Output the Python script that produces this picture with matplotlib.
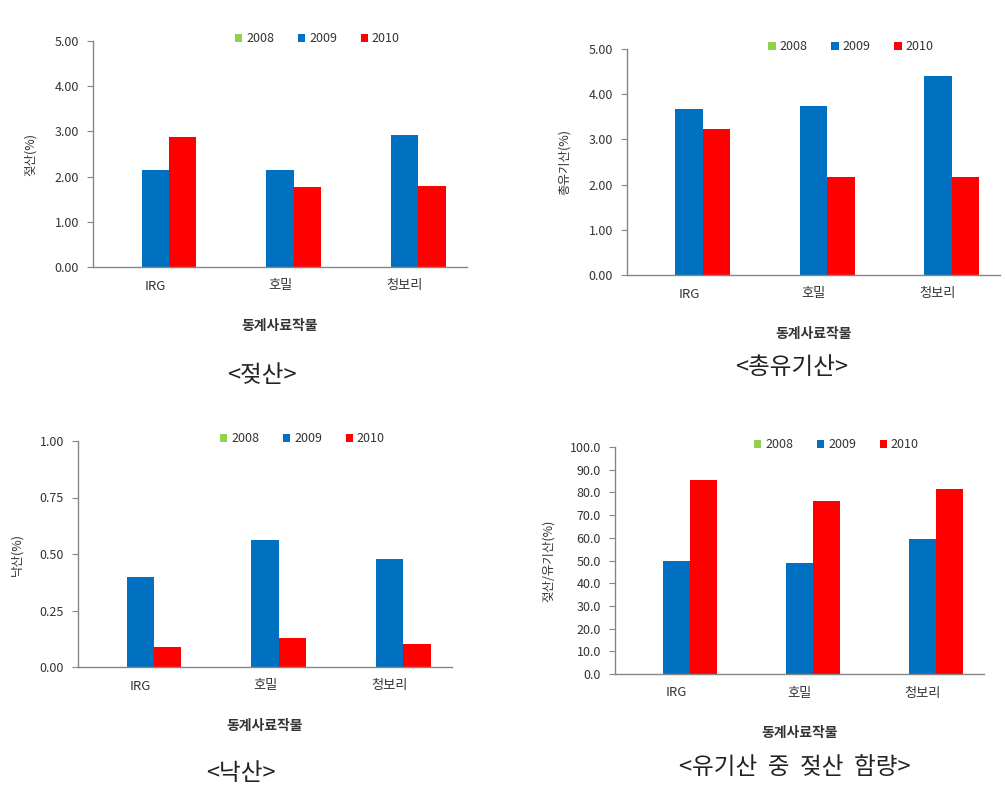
import numpy as np
import matplotlib
matplotlib.use("Agg")
import matplotlib.pyplot as plt
from matplotlib.ticker import MultipleLocator, FormatStrFormatter

plt.rcParams['font.family'] = ['Noto Sans CJK KR', 'DejaVu Sans']

# data
crops = ['IRG', '호밀', '청보리']
years = ['2008', '2009', '2010']
colors = ['#92D050', '#0070C0', '#FF0000']

lactic_2008 = [np.nan, np.nan, np.nan]
lactic_2009 = [2.15, 2.15, 2.92]
lactic_2010 = [2.87, 1.78, 1.80]

total_2008 = [np.nan, np.nan, np.nan]
total_2009 = [3.67, 3.73, 4.40]
total_2010 = [3.24, 2.16, 2.16]

butyric_2008 = [np.nan, np.nan, np.nan]
butyric_2009 = [0.40, 0.56, 0.48]
butyric_2010 = [0.09, 0.13, 0.10]

ratio_2008 = [np.nan, np.nan, np.nan]
ratio_2009 = [50.0, 49.0, 59.6]
ratio_2010 = [85.5, 76.1, 81.7]

W, H = 1005, 800
fig = plt.figure(figsize=(W / 100, H / 100), dpi=100)


def px_axes(left, top, right, bottom):
    return fig.add_axes([left / W, 1 - bottom / H, (right - left) / W, (bottom - top) / H])


def panel(box, series, ymax, step, fmt, ylabel, ylab_dist, title, title_xy):
    ax = px_axes(*box)
    x = np.arange(len(crops))
    bw = 0.22
    handles = []
    for i, (vals, c) in enumerate(zip(series, colors)):
        b = ax.bar(x + (i - 1) * bw, vals, bw, color=c, label=years[i])
        handles.append(b)
    ax.set_xlim(-0.5, 2.5)
    ax.set_ylim(0, ymax)
    ax.yaxis.set_major_locator(MultipleLocator(step))
    ax.yaxis.set_major_formatter(FormatStrFormatter(fmt))
    ax.set_xticks(x)
    ax.set_xticklabels(crops, fontsize=9.5, color='#333333')
    ax.tick_params(axis='x', length=0, pad=9)
    ax.tick_params(axis='y', length=4, width=0.8, color='#868686', labelsize=9,
                   labelcolor='#333333', pad=6)
    for s in ['top', 'right']:
        ax.spines[s].set_visible(False)
    for s in ['left', 'bottom']:
        ax.spines[s].set_color('#868686')
        ax.spines[s].set_linewidth(1.0)
    ax.set_ylabel(ylabel, fontsize=9, color='#333333')
    ax.yaxis.set_label_coords(-ylab_dist / (box[2] - box[0]), 0.5)
    ax.set_xlabel('동계사료작물', fontsize=10, fontweight='bold', color='#333333')
    ax.xaxis.set_label_coords(0.5, -52 / (box[3] - box[1]))
    ax.legend(handles=handles, loc='center', bbox_to_anchor=(0.6, 1.01), ncol=3,
              frameon=False, fontsize=9, handlelength=0.6, handleheight=0.6,
              handletextpad=0.3, columnspacing=1.9,
              labelcolor='#333333')
    fig.text(title_xy[0] / W, 1 - title_xy[1] / H, title, fontsize=17,
             ha='center', va='center', fontweight='light', color='#222222')
    return ax


panel((93, 41, 467, 267), [lactic_2008, lactic_2009, lactic_2010], 5.0, 1.0, '%.2f',
      '젖산(%)', 56, '<젖산>', (262, 375))
panel((627, 49, 1000, 275), [total_2008, total_2009, total_2010], 5.0, 1.0, '%.2f',
      '총유기산(%)', 56, '<총유기산>', (792, 368))
panel((78, 441, 452, 667), [butyric_2008, butyric_2009, butyric_2010], 1.0, 0.25, '%.2f',
      '낙산(%)', 55, '<낙산>', (241, 773))
panel((615, 447, 984, 674), [ratio_2008, ratio_2009, ratio_2010], 100.0, 10.0, '%.1f',
      '젖산/유기산(%)', 60, '<유기산  중  젖산  함량>', (795, 767))

fig.savefig('out.png', dpi=100, facecolor='white')
